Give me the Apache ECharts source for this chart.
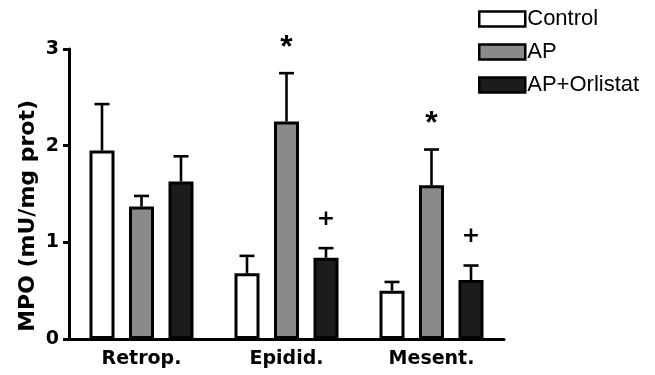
<!DOCTYPE html>
<html>
<head>
<meta charset="utf-8">
<script src="https://cdn.jsdelivr.net/npm/echarts@6/dist/echarts.min.js"></script>
<style>html,body{margin:0;padding:0;background:#fff}#c{width:655px;height:375px}</style>
</head>
<body>
<div id="c"></div>
<script>
var categories = ['Retrop.', 'Epidid.', 'Mesent.'];
var seriesNames = ['Control', 'AP', 'AP+Orlistat'];
var controlMean = [1.95, 0.68, 0.50];
var controlSem = [0.48, 0.18, 0.09];
var apMean = [1.37, 2.25, 1.59];
var apSem = [0.11, 0.50, 0.37];
var orlMean = [1.63, 0.84, 0.61];
var orlSem = [0.26, 0.10, 0.15];
var apMarks = ['', '*', '*'];
var orlMarks = ['', '+', '+'];
var yTicks = [0, 1, 2, 3];
var yTitle = 'MPO (mU/mg prot)';

var means = [controlMean, apMean, orlMean];
var sems = [controlSem, apSem, orlSem];
var marks = [['', '', ''], apMarks, orlMarks];
var fills = ['#ffffff', '#8a8a8a', '#1c1c1c'];
var BAR_W = 25, BAR_GAP = 14.5;

var chart = echarts.init(document.getElementById('c'), null, {renderer: 'canvas'});
var series = [];
for (var s = 0; s < 3; s++) {
  series.push({
    name: seriesNames[s], type: 'bar', data: means[s],
    barWidth: BAR_W, barGap: (BAR_GAP / BAR_W * 100) + '%',
    itemStyle: {color: fills[s], borderColor: '#000', borderWidth: 3},
    emphasis: {disabled: true}, z: 2
  });
}
for (var s2 = 0; s2 < 3; s2++) {
  (function (si) {
    var d = means[si].map(function (v, i) { return [i, v, sems[si][i]]; });
    series.push({
      type: 'custom', z: 3, silent: true,
      data: d,
      renderItem: function (params, api) {
        var i = api.value(0), v = api.value(1), e = api.value(2);
        var off = (si - 1) * (BAR_W + BAR_GAP);
        var p0 = api.coord([i, v]);
        var p1 = api.coord([i, v + e]);
        var x = p0[0] + off;
        var children = [
          {type: 'line', shape: {x1: x, y1: p0[1], x2: x, y2: p1[1]}, style: {stroke: '#000', lineWidth: 2.6}},
          {type: 'line', shape: {x1: x - 7.5, y1: p1[1], x2: x + 7.5, y2: p1[1]}, style: {stroke: '#000', lineWidth: 2.6}}
        ];
        var m = marks[si][i];
        if (m) {
          children.push({type: 'text', x: x, y: p1[1] - (m === '*' ? 25 : 29), style: {
            text: m, fill: '#000', font: (m === '*' ? 'bold 32px "Liberation Sans"' : 'bold 22px "DejaVu Sans"'),
            align: 'center', verticalAlign: 'middle'
          }});
        }
        return {type: 'group', children: children};
      }
    });
  })(s2);
}

chart.setOption({
  animation: false,
  backgroundColor: '#ffffff',
  grid: {left: 69, top: 49, width: 435, height: 290, containLabel: false},
  legend: {
    orient: 'vertical', left: 473, top: 3, itemWidth: 46, itemHeight: 15, itemGap: 11,
    selectedMode: false,
    textStyle: {fontFamily: '"Liberation Sans", Arial', fontSize: 22, color: '#000', padding: [0, 0, 0, -3]},
    data: seriesNames.map(function (n, k) {
      return {name: n, icon: 'rect', itemStyle: {color: fills[k], borderColor: '#000', borderWidth: 2.5}};
    })
  },
  graphic: [{
    type: 'text', left: 17, top: 100, rotation: Math.PI / 2,
    style: {text: yTitle, fill: '#000', font: 'bold 22px "DejaVu Sans"'}
  }],
  xAxis: {
    type: 'category', data: categories,
    axisLine: {lineStyle: {color: '#000', width: 3}},
    axisTick: {alignWithLabel: true, length: 7, lineStyle: {color: '#000', width: 3}},
    axisLabel: {margin: 11, color: '#000', fontFamily: '"DejaVu Sans"', fontWeight: 'bold', fontSize: 19}
  },
  yAxis: {
    type: 'value', min: yTicks[0], max: yTicks[yTicks.length - 1], interval: 1,
    axisLine: {show: true, lineStyle: {color: '#000', width: 3}},
    axisTick: {show: true, length: 6, lineStyle: {color: '#000', width: 3}},
    axisLabel: {margin: 10, color: '#000', fontFamily: '"DejaVu Sans"', fontWeight: 'bold', fontSize: 19},
    splitLine: {show: false}
  },
  series: series
});
</script>
</body>
</html>
